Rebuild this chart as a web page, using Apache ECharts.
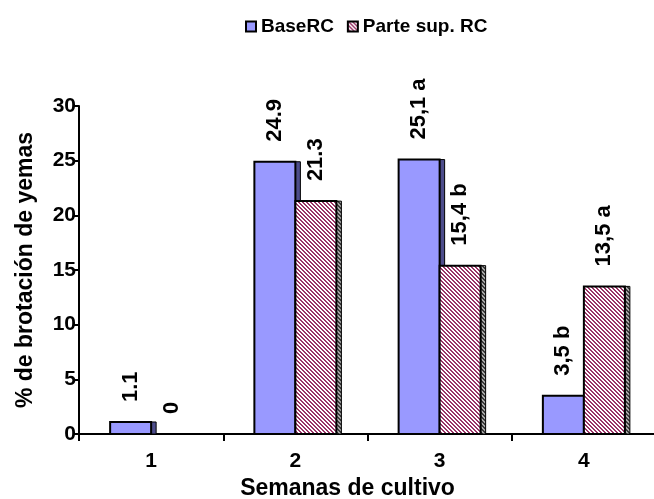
<!DOCTYPE html>
<html>
<head>
<meta charset="utf-8">
<script src="https://cdn.jsdelivr.net/npm/echarts@6/dist/echarts.min.js"></script>
<style>
html,body{margin:0;padding:0;background:#fff;}
#chart{width:654px;height:499px;}
</style>
</head>
<body>
<div id="chart"></div>
<script>
// ---- data ----
var categories = ['1', '2', '3', '4'];
var seriesNames = ['BaseRC', 'Parte sup. RC'];
var baseValues = [1.1, 24.9, 25.1, 3.5];
var supValues = [0, 21.3, 15.4, 13.5];
var baseLabels = ['1.1', '24.9', '25,1 a', '3,5 b'];
var supLabels = ['0', '21.3', '15,4 b', '13,5 a'];
var yTicks = [0, 5, 10, 15, 20, 25, 30];

var FONT = '"Liberation Sans", Arial, sans-serif';
var BAR_W = 41;
var DEPTH = 5;
var LABEL_GAP = 20;
var LABEL_FONT = 'bold 22px ' + FONT;

function makeHatch(fg, bg) {
  var c = document.createElement('canvas');
  c.width = 4; c.height = 4;
  var ctx = c.getContext('2d');
  ctx.fillStyle = bg; ctx.fillRect(0, 0, 4, 4);
  ctx.fillStyle = fg;
  for (var y = 0; y < 4; y++) {
    for (var x = 0; x < 4; x++) {
      if (((x - y + 8) % 4) < 2) ctx.fillRect(x, y, 1, 1);
    }
  }
  return c;
}
var hatch = makeHatch('#993366', '#ffffff');
var sideHatch = makeHatch('#3a3a3a', '#a8a8a8');

var styles = [
  {front: '#9999ff', side: '#4d4d8c'},
  {front: {image: hatch, repeat: 'repeat'}, side: {image: sideHatch, repeat: 'repeat'}}
];
var labelSets = [baseLabels, supLabels];

function makeRender(si) {
  return function (params, api) {
    var ci = api.value(0);
    var v = api.value(1);
    var base = api.coord([ci, 0]);
    var top = api.coord([ci, v]);
    var x0 = si === 0 ? base[0] - BAR_W : base[0];
    var y0 = top[1];
    var h = base[1] - top[1];
    var st = styles[si];
    var children = [];
    if (h > 0.5) {
      children.push({
        type: 'rect',
        shape: {x: x0 + BAR_W, y: y0, width: DEPTH, height: h},
        style: {fill: st.side, stroke: '#000', lineWidth: 1}
      });
      children.push({
        type: 'rect',
        shape: {x: x0, y: y0, width: BAR_W, height: h},
        style: {fill: st.front, stroke: '#000', lineWidth: 2}
      });
    }
    children.push({
      type: 'text',
      x: x0 + BAR_W / 2,
      y: y0 - LABEL_GAP,
      rotation: Math.PI / 2,
      style: {
        text: labelSets[si][params.dataIndex],
        font: LABEL_FONT,
        fill: '#000',
        align: 'left',
        verticalAlign: 'middle'
      }
    });
    return {type: 'group', children: children};
  };
}

function toData(vals) {
  return vals.map(function (v, i) { return [i, v]; });
}

var chart = echarts.init(document.getElementById('chart'), null, {renderer: 'canvas'});

chart.setOption({
  animation: false,
  textStyle: {fontFamily: FONT},
  legend: {
    top: 17,
    left: 245,
    padding: 0,
    itemWidth: 10,
    itemHeight: 10,
    itemGap: 13,
    icon: 'rect',
    textStyle: {fontFamily: FONT, fontWeight: 'bold', fontSize: 19, color: '#000'},
    data: seriesNames
  },
  grid: {left: 79, right: -2, top: 106, bottom: 65, outerBoundsMode: 'none', containLabel: false},
  xAxis: {
    type: 'category',
    data: categories,
    axisLine: {lineStyle: {color: '#000', width: 2}},
    axisTick: {show: true, length: 7, lineStyle: {color: '#000', width: 2}},
    axisLabel: {margin: 17, color: '#000', fontFamily: FONT, fontWeight: 'bold', fontSize: 21},
    name: 'Semanas de cultivo',
    nameLocation: 'middle',
    nameGap: 43,
    nameTextStyle: {color: '#000', fontFamily: FONT, fontWeight: 'bold', fontSize: 23, padding: [0, 40, 0, 0]}
  },
  yAxis: {
    type: 'value',
    min: yTicks[0],
    max: yTicks[yTicks.length - 1],
    interval: yTicks[1] - yTicks[0],
    splitLine: {show: false},
    axisLine: {show: true, lineStyle: {color: '#000', width: 2}},
    axisTick: {show: true, length: 5, lineStyle: {color: '#000', width: 2}},
    axisLabel: {margin: 3, color: '#000', fontFamily: FONT, fontWeight: 'bold', fontSize: 21},
    name: '% de brotación de yemas',
    nameLocation: 'middle',
    nameGap: 42,
    nameTextStyle: {color: '#000', fontFamily: FONT, fontWeight: 'bold', fontSize: 23}
  },
  series: [
    {
      name: seriesNames[0],
      type: 'custom',
      renderItem: makeRender(0),
      data: toData(baseValues),
      encode: {x: 0, y: 1},
      itemStyle: {color: '#9999ff', borderColor: '#000', borderWidth: 1}
    },
    {
      name: seriesNames[1],
      type: 'custom',
      renderItem: makeRender(1),
      data: toData(supValues),
      encode: {x: 0, y: 1},
      itemStyle: {color: {image: hatch, repeat: 'repeat'}, borderColor: '#000', borderWidth: 1}
    }
  ]
});
</script>
</body>
</html>
